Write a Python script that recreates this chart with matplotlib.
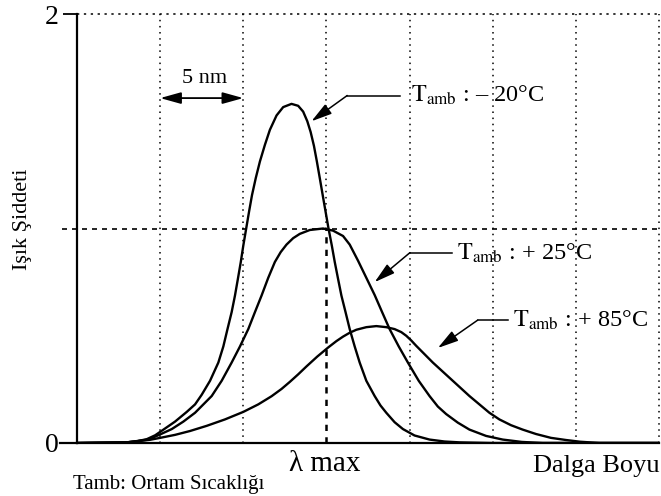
import matplotlib
matplotlib.use("Agg")
import matplotlib.pyplot as plt

plt.rcParams['font.family'] = ['Liberation Serif', 'DejaVu Serif']
plt.rcParams['mathtext.fontset'] = 'stix'

# Data (x in grid units of 5 nm, y = relative intensity)
x_m20 = [0.0, 0.6, 0.72, 0.84, 0.94, 1.04, 1.18, 1.32, 1.42, 1.50, 1.60, 1.70, 1.76, 1.81, 1.86,
         1.90, 1.935, 1.97, 2.00, 2.035, 2.07, 2.105, 2.15, 2.20, 2.26, 2.32, 2.40, 2.48, 2.58,
         2.66, 2.72, 2.77, 2.81, 2.85, 2.885, 2.92, 2.955, 2.99, 3.025, 3.065, 3.10, 3.14, 3.18,
         3.23, 3.28, 3.34, 3.40, 3.48, 3.58, 3.65, 3.72, 3.82, 3.92, 4.06, 4.24, 4.42, 4.60,
         5.0, 7.0]
y_m20 = [0.0, 0.003, 0.008, 0.018, 0.036, 0.0625, 0.10, 0.145, 0.18, 0.225, 0.29, 0.375, 0.45,
         0.531, 0.61, 0.6875, 0.765, 0.844, 0.92, 1.0, 1.08, 1.156, 1.235, 1.3125, 1.39, 1.46,
         1.527, 1.566, 1.581, 1.572, 1.545, 1.50, 1.45, 1.385, 1.3125, 1.235, 1.156, 1.078, 1.0,
         0.92, 0.844, 0.765, 0.6875, 0.61, 0.531, 0.45, 0.375, 0.29, 0.219, 0.175, 0.141, 0.097,
         0.065, 0.035, 0.016, 0.007, 0.003, 0.0, 0.0]

x_p25 = [0.0, 0.6, 0.86, 1.0, 1.14, 1.28, 1.42, 1.62, 1.74, 1.86, 1.96, 2.06, 2.14, 2.22, 2.30,
         2.38, 2.45, 2.52, 2.60, 2.68, 2.80, 2.96, 3.08, 3.20, 3.28, 3.38, 3.48, 3.58, 3.67,
         3.76, 3.87, 3.98, 4.11, 4.24, 4.34, 4.44, 4.58, 4.72, 4.92, 5.12, 5.35, 5.6, 7.0]
y_p25 = [0.0, 0.003, 0.016, 0.04, 0.065, 0.10, 0.141, 0.219, 0.29, 0.375, 0.45, 0.531, 0.61,
         0.6875, 0.77, 0.844, 0.89, 0.925, 0.955, 0.975, 0.993, 1.0, 0.99, 0.965, 0.925, 0.85,
         0.77, 0.69, 0.61, 0.531, 0.45, 0.375, 0.29, 0.219, 0.17, 0.135, 0.095, 0.0625, 0.033,
         0.016, 0.005, 0.0, 0.0]

x_p85 = [0.0, 0.6, 0.88, 1.0, 1.18, 1.36, 1.56, 1.78, 2.0, 2.18, 2.34, 2.46, 2.56, 2.66, 2.76,
         2.89, 3.02, 3.12, 3.20, 3.28, 3.36, 3.48, 3.60, 3.72, 3.82, 3.90, 3.96, 4.02, 4.08,
         4.18, 4.28, 4.39, 4.50, 4.61, 4.72, 4.84, 4.96, 5.08, 5.22, 5.36, 5.52, 5.70, 5.88,
         6.05, 6.28, 7.0]
y_p85 = [0.0, 0.003, 0.015, 0.024, 0.038, 0.056, 0.08, 0.11, 0.145, 0.18, 0.218, 0.252, 0.285,
         0.32, 0.357, 0.403, 0.445, 0.475, 0.496, 0.514, 0.528, 0.540, 0.545, 0.54, 0.531, 0.517,
         0.50, 0.478, 0.453, 0.414, 0.375, 0.336, 0.297, 0.258, 0.219, 0.18, 0.141, 0.11, 0.083,
         0.0625, 0.042, 0.024, 0.014, 0.006, 0.0, 0.0]

grid_x = [1, 2, 4, 5, 6, 7]
lam_max_x = 3

fig = plt.figure(figsize=(6.61, 4.96), dpi=100)
ax = fig.add_axes([77/661, 53/496, 582/661, 429/496])
ax.set_xlim(0, 7)
ax.set_ylim(0, 2)

for s in ['top', 'right']:
    ax.spines[s].set_visible(False)
ax.spines['left'].set_linewidth(1.6)
ax.spines['bottom'].set_linewidth(1.6)
ax.set_xticks([])
ax.set_yticks([0, 2])
ax.set_yticklabels(['0', '2'], fontsize=20)
ax.tick_params(axis='y', length=10, width=1.3, pad=3)

# grid
for gx in grid_x:
    ax.plot([gx, gx], [0, 2], linestyle=(0, (1, 3)), color='black', lw=1.1, clip_on=False)
ax.plot([lam_max_x, lam_max_x], [1, 2], linestyle=(0, (1, 3)), color='black', lw=1.1)
ax.plot([lam_max_x, lam_max_x], [0, 1], linestyle=(0, (2.5, 2.5)), color='black', lw=1.8)
ax.plot([0, 7], [2, 2], linestyle=(0, (1.5, 3)), color='black', lw=1.1, clip_on=False)
ax.plot([-0.18, 7], [1, 1], linestyle=(0, (3, 3)), color='black', lw=1.2, clip_on=False)
ax.plot([-0.2, 0], [0, 0], color='black', lw=1.6, clip_on=False)

# curves
for xs, ys in [(x_m20, y_m20), (x_p25, y_p25), (x_p85, y_p85)]:
    ax.plot(xs, ys, color='black', lw=1.7, solid_joinstyle='round', solid_capstyle='round')

# 5 nm annotation
ax.annotate('', xy=(1, 1.608), xytext=(2, 1.608),
            arrowprops=dict(arrowstyle='<|-|>,head_length=0.9,head_width=0.25', color='black',
                            lw=1.3, mutation_scale=14, shrinkA=0, shrinkB=0))
ax.text(1.54, 1.655, '5 nm', ha='center', va='bottom', fontsize=16)

# Labels with leader lines
def leader(p_tip, p_knee, p_end):
    ax.plot([p_knee[0], p_end[0]], [p_knee[1], p_end[1]], color='black', lw=1.1)
    ax.annotate('', xy=p_tip, xytext=p_knee,
                arrowprops=dict(arrowstyle='-|>,head_length=0.9,head_width=0.25', color='black',
                                lw=1.1, mutation_scale=14, shrinkA=0, shrinkB=0))

leader((2.82, 1.50), (3.25, 1.62), (3.88, 1.62))
ax.text(4.02, 1.62, r'$\mathrm{T_{amb}}$ : – 20°C', fontsize=17.5, va='center', ha='left')

leader((3.58, 0.75), (4.00, 0.886), (4.51, 0.886))
ax.text(4.57, 0.886, r'$\mathrm{T_{amb}}$ : + 25°C', fontsize=17.5, va='center', ha='left')

leader((4.34, 0.443), (4.82, 0.573), (5.18, 0.573))
ax.text(5.24, 0.573, r'$\mathrm{T_{amb}}$ : + 85°C', fontsize=17.5, va='center', ha='left')

# axis texts
fig.text(325/661, 1 - 464/496, 'λ max', ha='center', va='center', fontsize=21)
fig.text(596/661, 1 - 466/496, 'Dalga Boyu', ha='center', va='center', fontsize=19)
fig.text(73/661, 1 - 484/496, 'Tamb: Ortam Sıcaklığı', ha='left', va='center', fontsize=15)
fig.text(23/661, 1 - 219/496, 'Işık Şiddeti', ha='center', va='center', rotation=90, fontsize=16)

fig.savefig('out.png', dpi=100)
